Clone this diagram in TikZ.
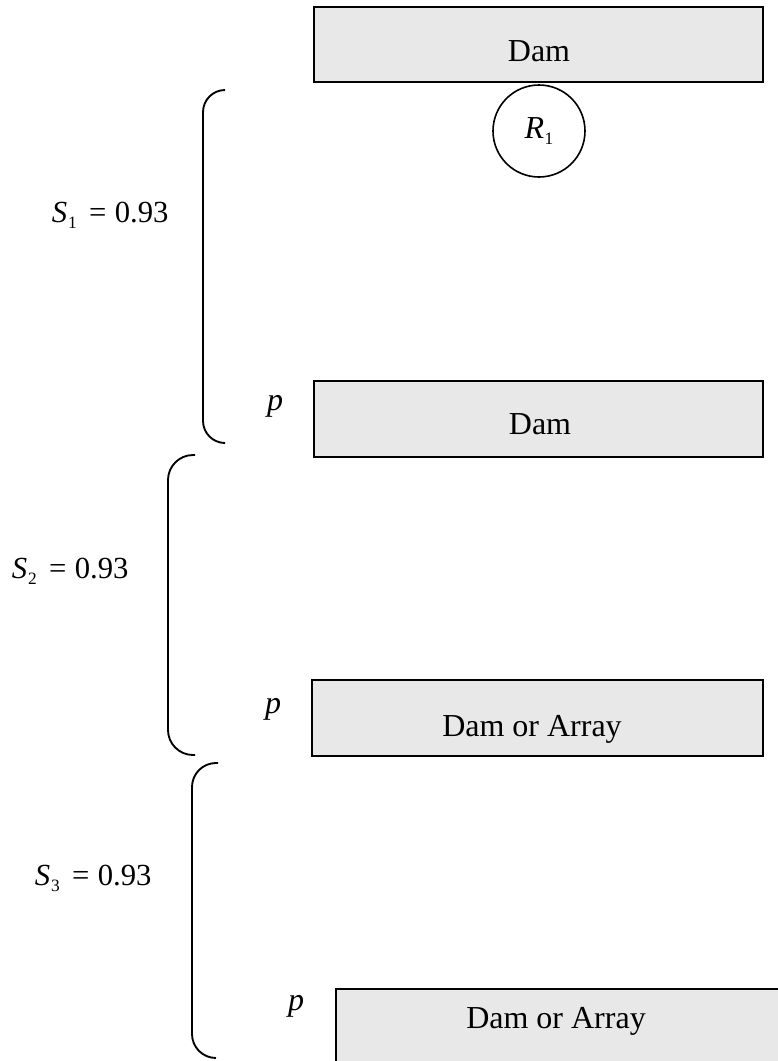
\documentclass[tikz,border=0pt]{standalone}
\usepackage{fontspec}
\setmainfont{Liberation Serif}
\definecolor{boxgray}{HTML}{E8E8E8}
\newcommand{\sublbl}[1]{\textit{S}\kern0.3pt\raisebox{-2.4pt}{\fontsize{6.5}{8}\selectfont #1}\hspace{4.6pt}=\hspace{3.2pt}0.93}
\begin{document}
\begin{tikzpicture}[x=0.375pt,y=-0.375pt,
  box/.style={draw=black, line width=0.75pt, fill=boxgray, inner sep=0pt, outer sep=0pt, minimum height=28.4pt},
  txt/.style={font=\fontsize{12}{14}\selectfont, inner sep=0pt, outer sep=0pt, anchor=base},
  lbl/.style={font=\fontsize{11.5}{14}\selectfont, inner sep=0pt, outer sep=0pt, anchor=base west},
  plbl/.style={font=\fontsize{12}{14}\selectfont, inner sep=0pt, outer sep=0pt, anchor=base west},
  brace/.style={draw=black, line width=0.7pt},
  ring/.style={draw=black, line width=0.6pt, circle, minimum size=34.5pt, inner sep=0pt}
]
\useasboundingbox (0,0) rectangle (778,1061);
\clip (0,0) rectangle (778,1061);

% boxes
\node[box, minimum width=168.4pt] (b1) at (538.5,44.5) {};
\node[box, minimum width=168.4pt] (b2) at (538.5,419) {};
\node[box, minimum width=169.1pt] (b3) at (537.5,718) {};
\node[box, minimum width=168.8pt] (b4) at (561,1027) {};

\node[txt] (t1) at (539,61) {Dam};
\node[txt] (t2) at (540,434) {Dam};
\node[txt] (t3) at (532,736) {Dam or Array};
\node[txt] (t4) at (556,1028) {Dam or Array};

% circle
\node[ring] (r1) at (539,131) {};
\node[font=\fontsize{12}{14}\selectfont, inner sep=0pt] (r1t) at (539,131) {\textit{R}\kern0.2pt\raisebox{-2.6pt}{\fontsize{6.5}{8}\selectfont 1}};

% braces
\draw[brace, rounded corners=8.3pt] (225,90) -- (203,90) -- (203,443) -- (225,443);
\draw[brace, rounded corners=9.4pt] (195,455) -- (168,455) -- (168,755) -- (195,755);
\draw[brace, rounded corners=9pt] (218,763) -- (192,763) -- (192,1058) -- (216,1058);

% labels
\node[lbl] (s1) at (52,222) {\sublbl{1}};
\node[lbl] (s2) at (12,578) {\sublbl{2}};
\node[lbl] (s3) at (35,885) {\sublbl{3}};

\node[plbl] (p1) at (267,410) {\textit{p}};
\node[plbl] (p2) at (265,713) {\textit{p}};
\node[plbl] (p3) at (288,1010) {\textit{p}};
\end{tikzpicture}
\end{document}
